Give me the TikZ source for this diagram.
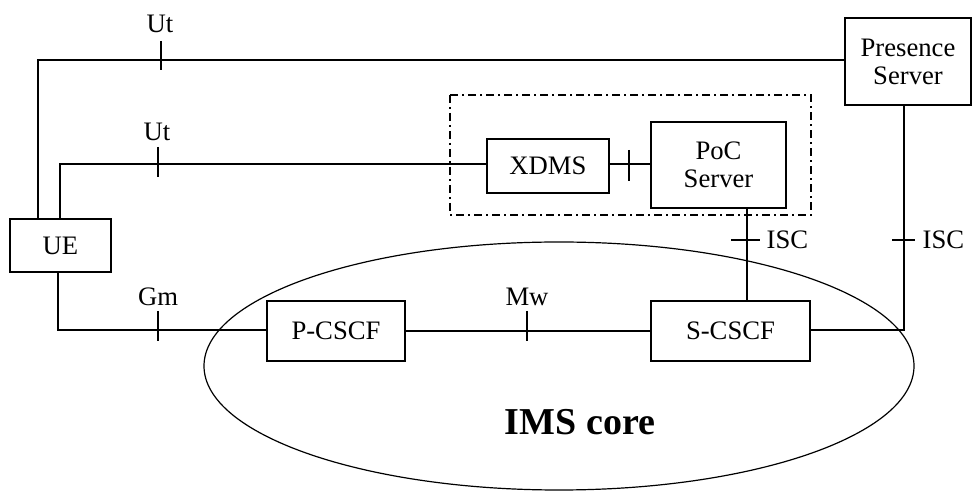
\documentclass[tikz,border=0pt]{standalone}
\usepackage{fontspec}
\setmainfont{Liberation Serif}
\begin{document}
\begin{tikzpicture}[x=0.75pt,y=0.75pt,yscale=-1,xscale=1,
	every node/.style={font=\fontsize{20}{23}\selectfont},
	box/.style={draw,line width=0.9pt,rectangle,align=center,inner sep=0pt},
	link/.style={line width=0.9pt},
	dashdot/.style={line width=1.2pt,dash pattern=on 6pt off 3pt on 1.5pt off 3pt}]
	\useasboundingbox (0,0) rectangle (972,491);
	
	% IMS core ellipse
	\draw [link] (559,366) ellipse (355 and 124);
	\node (ims) at (580,422) {\fontsize{28.5}{31}\selectfont\bfseries IMS core};
	
	% Boxes
	\node [box,minimum width=75.75pt,minimum height=39.75pt] (ue) at (60.5,245.5) {UE};
	\node [box,minimum width=94.5pt,minimum height=65.25pt] (ps) at (908,61.5) {Presence\\[-2pt]Server};
	\node [box,minimum width=91.5pt,minimum height=40.5pt] (xdms) at (548,166) {XDMS};
	\node [box,minimum width=101.25pt,minimum height=64.5pt] (poc) at (718.5,165) {PoC\\[-2pt]Server};
	\node [box,minimum width=103.5pt,minimum height=45pt] (pcscf) at (336,331) {P-CSCF};
	\node [box,minimum width=119.25pt,minimum height=45pt] (scscf) at (730.5,331) {S-CSCF};
	% Dash-dot group
	\draw [dashdot] (450,95) rectangle (811,215);
	
	% Corner points
	\coordinate (c1) at (38,60);
	\coordinate (c2) at (60,164);
	\coordinate (c3) at (58,330);
	\coordinate (c4) at (747,240);
	\coordinate (c5) at (904,330);
	
	% Connection
	\draw [link] (ue.north -| c1) -- (c1) -- (ps.west |- c1);
	% Connection
	\draw [link] (ue.north -| c2) -- (c2) -- (xdms.west |- c2);
	% Connection
	\draw [link] (ue.south -| c3) -- (c3) -- (pcscf.west |- c3);
	% Connection
	\draw [link] (pcscf) -- (scscf);
	% Connection
	\draw [link] (xdms.east |- c2) -- (poc.west |- c2);
	% Connection
	\draw [link] (poc.south -| c4) -- (scscf.north -| c4);
	% Connection
	\draw [link] (scscf.east |- c5) -- (c5) -- (ps.south -| c5);
	
	% Ticks
	\draw [link] (161,41) -- (161,70);
	\draw [link] (158,147) -- (158,177);
	\draw [link] (158,311) -- (158,341);
	\draw [link] (527,311) -- (527,341);
	\draw [link] (629,150) -- (629,181);
	\draw [link] (731,240) -- (760,240);
	\draw [link] (892,240) -- (915,240);
	
	% Text Node
	\node (ut1) at (160,24) {Ut};
	% Text Node
	\node (ut2) at (157,132) {Ut};
	% Text Node
	\node (gm) at (158,297) {Gm};
	% Text Node
	\node (mw) at (527,297) {Mw};
	% Text Node
	\node [anchor=west] (isc1) at (762,240) {ISC};
	% Text Node
	\node [anchor=west] (isc2) at (918,240) {ISC};
	
\end{tikzpicture}
\end{document}
